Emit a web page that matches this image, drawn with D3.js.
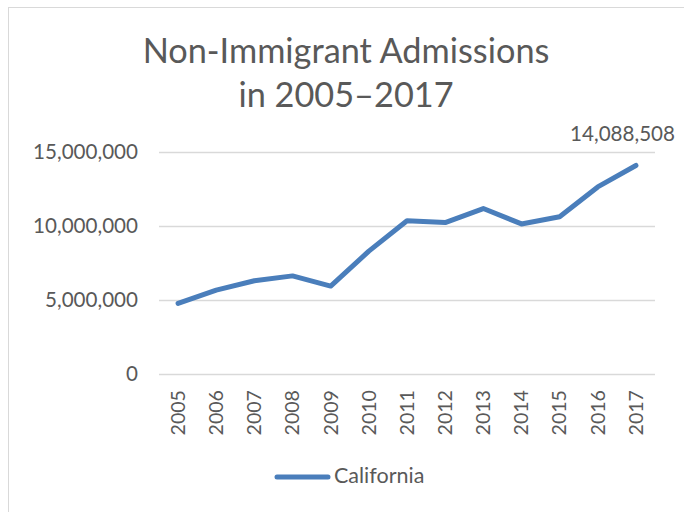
<!DOCTYPE html>
<html>
<head>
<meta charset="utf-8">
<script src="https://cdn.jsdelivr.net/npm/d3@7"></script>
<style>
  body { margin: 0; background: #fff; }
  svg text { font-family: Lato, "Open Sans", sans-serif; fill: #595959; }
</style>
</head>
<body>
<svg id="chart" width="684" height="512"></svg>
<script>
// data
var years = ["2005","2006","2007","2008","2009","2010","2011","2012","2013","2014","2015","2016","2017"];
var california = [4770000, 5670000, 6300000, 6630000, 5940000, 8300000, 10350000, 10230000, 11180000, 10140000, 10620000, 12640000, 14088508];
var yTicks = [0, 5000000, 10000000, 15000000];
var seriesName = "California";
var titleLines = ["Non-Immigrant Admissions", "in 2005\u20132017"];

var svg = d3.select("#chart");
var plot = {left: 159, right: 655, top: 152, bottom: 374};
var lineColor = "#4a7ebb";

// chart frame
svg.append("rect")
    .attr("x", 8.5).attr("y", 7.5)
    .attr("width", 684).attr("height", 520)
    .attr("fill", "none").attr("stroke", "#d9d9d9");

// title
svg.selectAll("text.title").data(titleLines).enter()
    .append("text").attr("class", "title")
    .attr("x", 346)
    .attr("y", function(d, i) { return 63 + i * 44; })
    .attr("text-anchor", "middle")
    .style("font-size", "34.3px")
    .text(function(d) { return d; });

var x = d3.scaleBand().domain(years).range([plot.left, plot.right]);
var y = d3.scaleLinear().domain([0, 15000000]).range([plot.bottom, plot.top]);

// gridlines
svg.append("g").selectAll("line").data(yTicks).enter()
    .append("line")
    .attr("x1", plot.left).attr("x2", plot.right)
    .attr("y1", function(d) { return Math.round(y(d)) + 0.5; })
    .attr("y2", function(d) { return Math.round(y(d)) + 0.5; })
    .attr("stroke", "#d9d9d9").attr("stroke-width", 1.3);

// y axis labels
var yAxis = d3.axisLeft(y).tickValues(yTicks).tickSize(0).tickPadding(0)
    .tickFormat(d3.format(","));
var gy = svg.append("g").attr("transform", "translate(138,0)").call(yAxis);
gy.select(".domain").remove();
gy.selectAll("text").style("font-size", "20.6px").attr("fill", "#595959");

// x axis labels (rotated)
var xAxis = d3.axisBottom(x).tickSize(0).tickPadding(0);
var gx = svg.append("g").attr("transform", "translate(0," + plot.bottom + ")").call(xAxis);
gx.select(".domain").remove();
gx.selectAll("text")
    .style("font-size", "19.6px").attr("fill", "#595959")
    .attr("transform", "rotate(-90)")
    .attr("text-anchor", "end")
    .attr("x", -16).attr("y", 0).attr("dy", "0.35em");

// line
var line = d3.line()
    .x(function(d, i) { return x(years[i]) + x.bandwidth() / 2; })
    .y(function(d) { return y(d); });
svg.append("path").datum(california)
    .attr("d", line)
    .attr("fill", "none").attr("stroke", lineColor)
    .attr("stroke-width", 5).attr("stroke-linejoin", "round").attr("stroke-linecap", "round");

// data label on last point (pushed left by the chart edge, like the original)
var last = california.length - 1;
svg.append("text")
    .attr("x", 675)
    .attr("y", y(california[last]) - 24)
    .attr("text-anchor", "end")
    .style("font-size", "20.6px")
    .text(d3.format(",")(california[last]));

// legend
svg.append("line")
    .attr("x1", 277).attr("x2", 328).attr("y1", 477).attr("y2", 477)
    .attr("stroke", lineColor).attr("stroke-width", 5).attr("stroke-linecap", "round");
svg.append("text")
    .attr("x", 334).attr("y", 483)
    .style("font-size", "21.5px")
    .text(seriesName);
</script>
</body>
</html>
